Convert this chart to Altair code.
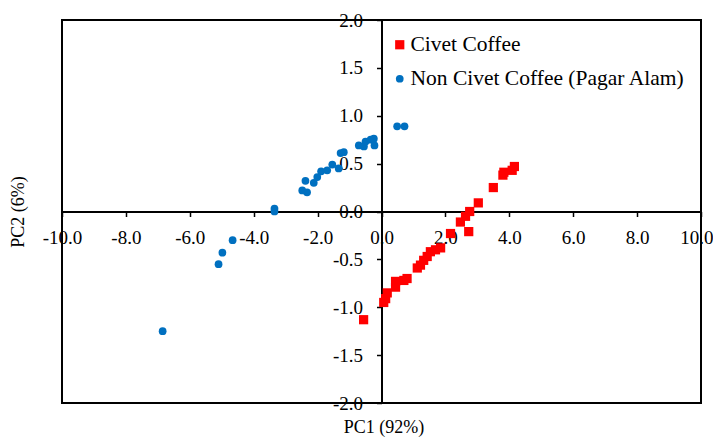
import altair as alt
import pandas as pd

civet_x = [4.16, 4.09, 3.83, 3.80, 3.50, 3.03, 2.76, 2.63, 2.47, 2.73, 2.16, 1.85, 1.69, 1.53,
           1.43, 1.32, 1.22, 1.12, 0.80, 0.70, 0.44, 0.44, 0.18, 0.13, 0.07, -0.56]
civet_y = [0.47, 0.43, 0.41, 0.38, 0.25, 0.09, 0.00, -0.05, -0.11, -0.21, -0.23, -0.38, -0.40, -0.42,
           -0.47, -0.51, -0.56, -0.59, -0.70, -0.72, -0.73, -0.79, -0.85, -0.91, -0.95, -1.13]

non_x = [-6.85, -5.10, -4.98, -4.66, -3.35, -3.35, -2.48, -2.33, -2.38, -2.12, -2.01, -1.89, -1.70,
         -1.54, -1.34, -1.28, -1.18, -0.71, -0.55, -0.50, -0.34, -0.22, -0.24, 0.49, 0.72]
non_y = [-1.25, -0.55, -0.43, -0.30, 0.03, 0.00, 0.22, 0.20, 0.32, 0.30, 0.36, 0.42, 0.43,
         0.49, 0.45, 0.61, 0.62, 0.69, 0.68, 0.73, 0.75, 0.69, 0.76, 0.89, 0.89]

series = ["Civet Coffee", "Non Civet Coffee (Pagar Alam)"]
colors = ["#FF0000", "#0070C0"]
shapes = ["square", "circle"]

x_ticks = [-10, -8, -6, -4, -2, 0, 2, 4, 6, 8, 10]
y_ticks = [-2.0, -1.5, -1.0, -0.5, 0.0, 0.5, 1.0, 1.5, 2.0]

df = pd.concat([
    pd.DataFrame({"PC1": civet_x, "PC2": civet_y, "group": series[0]}),
    pd.DataFrame({"PC1": non_x, "PC2": non_y, "group": series[1]}),
])

W, H = 639, 383
FONT = "Liberation Serif"
LABEL = "(datum.value < 0 ? '-' : '') + format(abs(datum.value), '.1f')"

chart = alt.Chart(df).mark_point(filled=True, opacity=1).encode(
    x=alt.X("PC1:Q",
            scale=alt.Scale(domain=[-10, 10], nice=False, zero=False),
            axis=alt.Axis(values=x_ticks, labelExpr=LABEL, grid=False, offset=-H / 2,
                          title="PC1 (92%)", titleX=W / 2 + 2, titleY=207,
                          labelAlign={"condition": {"test": "datum.value == 10", "value": "right"},
                                      "value": "center"},
                          labelOffset={"condition": {"test": "datum.value == 10", "value": 12},
                                       "value": 0},
                          labelPadding=12, tickSize=5)),
    y=alt.Y("PC2:Q",
            scale=alt.Scale(domain=[-2, 2], nice=False, zero=False),
            axis=alt.Axis(values=y_ticks, labelExpr=LABEL, grid=False, offset=-W / 2,
                          title="PC2 (6%)", titleX=-(W / 2) - 44, titleY=H / 2,
                          titleAngle=-90, titleAlign="center", titleBaseline="middle",
                          labelPadding=14, tickSize=5)),
    color=alt.Color("group:N", scale=alt.Scale(domain=series, range=colors),
                    legend=alt.Legend(title=None, orient="none", legendX=327, legendY=14,
                                      labelFont=FONT, labelFontSize=21.5, labelColor="#000000",
                                      labelLimit=400,
                                      symbolSize=64, rowPadding=11, labelOffset=0,
                                      padding=0, symbolStrokeWidth=0)),
    shape=alt.Shape("group:N", scale=alt.Scale(domain=series, range=shapes), legend=None),
    size=alt.Size("group:N", scale=alt.Scale(domain=series, range=[85, 60]), legend=None),
).properties(
    width=W, height=H,
    background="white",
    autosize=alt.AutoSizeParams(type="none"),
    padding={"left": 54, "top": 12, "right": 12, "bottom": 35},
).configure(
    font=FONT
).configure_axis(
    labelFont=FONT, labelFontSize=19, labelColor="#000000",
    titleFont=FONT, titleFontSize=18, titleFontWeight="normal", titleColor="#000000",
    tickColor="#000000", tickWidth=1.5, domainColor="#000000", domainWidth=2,
    labelOverlap=False, labelFlush=False,
).configure_view(
    stroke="#000000", strokeWidth=2
)

chart.save("out.html", embed_options={"renderer": "svg", "actions": False})
